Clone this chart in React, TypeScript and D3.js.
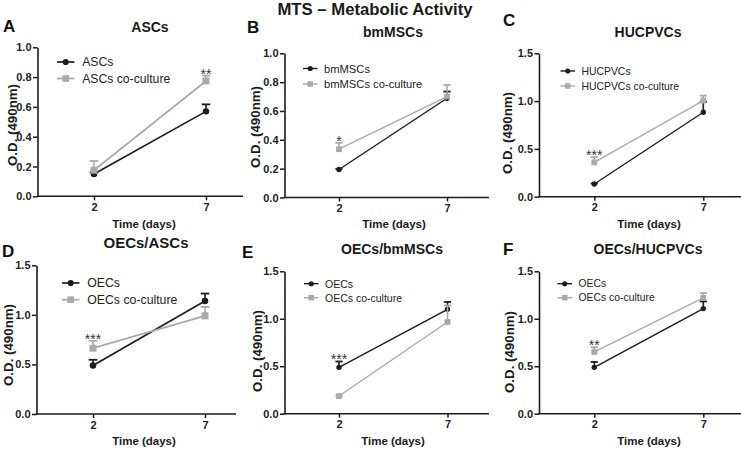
import React, { useEffect, useRef } from "react";
import * as d3 from "d3";

// sampling days on the x axis
const days = [2, 7];

// one entry per panel, A..F
const panelLetters = ["A", "B", "C", "D", "E", "F"];
const panelTitles = ["ASCs", "bmMSCs", "HUCPVCs", "OECs/ASCs", "OECs/bmMSCs", "OECs/HUCPVCs"];
const soloNames = ["ASCs", "bmMSCs", "HUCPVCs", "OECs", "OECs", "OECs"];
const coNames = [
  "ASCs co-culture",
  "bmMSCs co-culture",
  "HUCPVCs co-culture",
  "OECs co-culture",
  "OECs co-culture",
  "OECs co-culture",
];
const yMaxes = [1.0, 1.0, 1.5, 1.5, 1.5, 1.5];
const yTickLists = [
  [0, 0.2, 0.4, 0.6, 0.8, 1.0],
  [0, 0.2, 0.4, 0.6, 0.8, 1.0],
  [0, 0.5, 1.0, 1.5],
  [0, 0.5, 1.0, 1.5],
  [0, 0.5, 1.0, 1.5],
  [0, 0.5, 1.0, 1.5],
];

// mean O.D. at day 2 and day 7, with the upper SEM bar
const soloMeans = [
  [0.15, 0.57],
  [0.194, 0.688],
  [0.133, 0.883],
  [0.49, 1.14],
  [0.488, 1.1],
  [0.488, 1.107],
];
const soloErrs = [
  [0.01, 0.047],
  [0.005, 0.047],
  [0.005, 0.11],
  [0.057, 0.075],
  [0.062, 0.077],
  [0.057, 0.075],
];
const coMeans = [
  [0.175, 0.774],
  [0.335, 0.7],
  [0.36, 1.005],
  [0.664, 0.99],
  [0.186, 0.966],
  [0.65, 1.22],
];
const coErrs = [
  [0.062, 0.036],
  [0.045, 0.08],
  [0.055, 0.052],
  [0.074, 0.09],
  [0.005, 0.174],
  [0.05, 0.05],
];
const starLabels = ["**", "*", "***", "***", "***", "**"];
const starDays = [7, 2, 2, 2, 2, 2];

// placement of each panel in the figure
const layout = [
  { left: 37.5, right: 243, top: 47.3, bottom: 196.3, x2: 94, x7: 206, k: 1.2, legX: 57, legY: 62, legGap: 16.5, legFont: 12.2, titleX: 150, titleY: 32, titleFont: 14, letterX: 3, letterY: 32, yLabX: 12, yLabY: 125, xLabX: 144, xLabY: 228 },
  { left: 284.5, right: 489, top: 53.3, bottom: 197.5, x2: 339, x7: 447, k: 1, legX: 303, legY: 68.5, legGap: 15.5, legFont: 11.2, titleX: 393, titleY: 37, titleFont: 14, letterX: 247, letterY: 33, yLabX: 255, yLabY: 127, xLabX: 394, xLabY: 228 },
  { left: 539, right: 741, top: 53.3, bottom: 196.7, x2: 594.3, x7: 703.3, k: 1, legX: 560.5, legY: 71, legGap: 15, legFont: 10.4, titleX: 648, titleY: 37, titleFont: 14, letterX: 503, letterY: 26, yLabX: 507, yLabY: 133, xLabX: 649, xLabY: 228 },
  { left: 36.5, right: 236, top: 265.3, bottom: 414, x2: 93, x7: 205, k: 1.2, legX: 62, legY: 283, legGap: 16.7, legFont: 12.3, titleX: 146, titleY: 248, titleFont: 15, letterX: 2, letterY: 257, yLabX: 8, yLabY: 345, xLabX: 144, xLabY: 445 },
  { left: 284.5, right: 489, top: 271.3, bottom: 413.7, x2: 339, x7: 447.5, k: 1, legX: 304, legY: 283.7, legGap: 14, legFont: 10.5, titleX: 392, titleY: 254, titleFont: 14, letterX: 242, letterY: 258, yLabX: 257, yLabY: 351, xLabX: 393, xLabY: 445 },
  { left: 539, right: 741, top: 271.3, bottom: 413.7, x2: 594.3, x7: 703.3, k: 1, legX: 557.5, legY: 283.7, legGap: 14, legFont: 10.4, titleX: 648, titleY: 254, titleFont: 14, letterX: 503, letterY: 255, yLabX: 509, yLabY: 352, xLabX: 649, xLabY: 445 },
];

const BLACK = "#1c1c1c";
const GRAY = "#a9a9a9";
const FONT = "'Liberation Sans', Arial, sans-serif";

const App = () => {
  const svgRef = useRef<SVGSVGElement>(null);
  const width = 741;
  const height = 453;

  useEffect(() => {
    const svg = d3.select(svgRef.current);
    svg.selectAll("*").remove();
    svg.style("font-family", FONT);

    svg
      .append("text")
      .attr("x", 375)
      .attr("y", 14.5)
      .attr("text-anchor", "middle")
      .attr("font-size", 16.7)
      .attr("font-weight", "bold")
      .attr("fill", "#1a1a1a")
      .text("MTS \u2013 Metabolic Activity");

    layout.forEach((L, i) => {
      const g = svg.append("g");
      const k = L.k;

      const x = d3.scaleLinear().domain(days).range([L.x2, L.x7]);
      const y = d3.scaleLinear().domain([0, yMaxes[i]]).range([L.bottom, L.top]);

      // y axis
      const yAxis = d3
        .axisLeft(y)
        .tickValues(yTickLists[i])
        .tickFormat(d3.format(".1f"))
        .tickSize(4.5)
        .tickSizeOuter(0)
        .tickPadding(1.5);
      const yg = g.append("g").attr("transform", `translate(${L.left},0)`).call(yAxis);
      yg.select(".domain").attr("stroke", BLACK).attr("stroke-width", 1.6);
      yg.selectAll(".tick line").attr("stroke", BLACK).attr("stroke-width", 1.5);
      yg.selectAll(".tick text")
        .attr("font-size", 11)
        .attr("font-weight", "bold")
        .attr("font-family", FONT)
        .attr("fill", "#222");

      // x axis
      const xAxis = d3.axisBottom(x).tickValues(days).tickFormat(d3.format("d")).tickSize(4).tickPadding(3);
      const xg = g.append("g").attr("transform", `translate(0,${L.bottom})`).call(xAxis);
      xg.select(".domain").remove();
      xg.selectAll(".tick line").attr("stroke", BLACK).attr("stroke-width", 1.5);
      xg.selectAll(".tick text")
        .attr("font-size", 11)
        .attr("font-weight", "bold")
        .attr("font-family", FONT)
        .attr("fill", "#222");
      g.append("line")
        .attr("x1", L.left - 0.8)
        .attr("x2", L.right)
        .attr("y1", L.bottom)
        .attr("y2", L.bottom)
        .attr("stroke", BLACK)
        .attr("stroke-width", 1.6);

      // labels
      g.append("text")
        .attr("x", L.letterX)
        .attr("y", L.letterY)
        .attr("font-size", 17)
        .attr("font-weight", "bold")
        .attr("fill", "#111")
        .text(panelLetters[i]);
      g.append("text")
        .attr("x", L.titleX)
        .attr("y", L.titleY)
        .attr("text-anchor", "middle")
        .attr("font-size", L.titleFont)
        .attr("font-weight", "bold")
        .attr("fill", "#1a1a1a")
        .text(panelTitles[i]);
      g.append("text")
        .attr("transform", `translate(${L.yLabX},${L.yLabY}) rotate(-90)`)
        .attr("text-anchor", "middle")
        .attr("dominant-baseline", "central")
        .attr("font-size", 13.3)
        .attr("font-weight", "bold")
        .attr("fill", "#1a1a1a")
        .text("O.D. (490nm)");
      g.append("text")
        .attr("x", L.xLabX)
        .attr("y", L.xLabY)
        .attr("text-anchor", "middle")
        .attr("font-size", 11.5)
        .attr("font-weight", "bold")
        .attr("fill", "#1a1a1a")
        .text("Time (days)");

      const series = [
        { name: soloNames[i], means: soloMeans[i], errs: soloErrs[i], color: BLACK, shape: "circle" },
        { name: coNames[i], means: coMeans[i], errs: coErrs[i], color: GRAY, shape: "square" },
      ];

      const r = 2.7 * k;
      const side = 5.8 * k;
      const drawMarker = (sel: any, shape: string, color: string, cx: number, cy: number, scale = 1) => {
        if (shape === "circle") {
          sel.append("circle").attr("cx", cx).attr("cy", cy).attr("r", r * scale).attr("fill", color);
        } else {
          const s = side * scale;
          sel.append("rect").attr("x", cx - s / 2).attr("y", cy - s / 2).attr("width", s).attr("height", s).attr("fill", color);
        }
      };

      const line = d3
        .line<number>()
        .x((_, j) => x(days[j]))
        .y((d) => y(d));

      series.forEach((s) => {
        g.append("path")
          .attr("d", line(s.means))
          .attr("fill", "none")
          .attr("stroke", s.color)
          .attr("stroke-width", 1.4 * k);

        s.means.forEach((m, j) => {
          const cx = x(days[j]);
          const top = y(m + s.errs[j]);
          g.append("line")
            .attr("x1", cx)
            .attr("x2", cx)
            .attr("y1", y(m))
            .attr("y2", top)
            .attr("stroke", s.color)
            .attr("stroke-width", 1.6);
          g.append("line")
            .attr("x1", cx - 3.6 * k)
            .attr("x2", cx + 3.6 * k)
            .attr("y1", top)
            .attr("y2", top)
            .attr("stroke", s.color)
            .attr("stroke-width", 1.8);
          drawMarker(g, s.shape, s.color, cx, y(m));
        });
      });

      // significance mark above the highest bar of that day
      const sj = days.indexOf(starDays[i]);
      const capTop = Math.max(...series.map((s) => s.means[sj] + s.errs[sj]));
      g.append("text")
        .attr("x", x(starDays[i]))
        .attr("y", y(capTop) + 3)
        .attr("text-anchor", "middle")
        .attr("font-size", 14)
        .attr("fill", "#333")
        .text(starLabels[i]);

      // legend
      const len = 14.5 * k;
      series.forEach((s, j) => {
        const ly = L.legY + j * L.legGap;
        g.append("line")
          .attr("x1", L.legX)
          .attr("x2", L.legX + len)
          .attr("y1", ly)
          .attr("y2", ly)
          .attr("stroke", s.color)
          .attr("stroke-width", 1.4 * k);
        drawMarker(g, s.shape, s.color, L.legX + len / 2, ly, 0.95);
        g.append("text")
          .attr("x", L.legX + len + 6.5 * k)
          .attr("y", ly)
          .attr("dominant-baseline", "central")
          .attr("font-size", L.legFont)
          .attr("fill", "#222")
          .text(s.name);
      });
    });
  }, []);

  return (
    <svg
      ref={svgRef}
      width={width}
      height={height}
      style={{ position: "absolute", left: 0, top: 0, background: "#fff" }}
    ></svg>
  );
};

export default App;
